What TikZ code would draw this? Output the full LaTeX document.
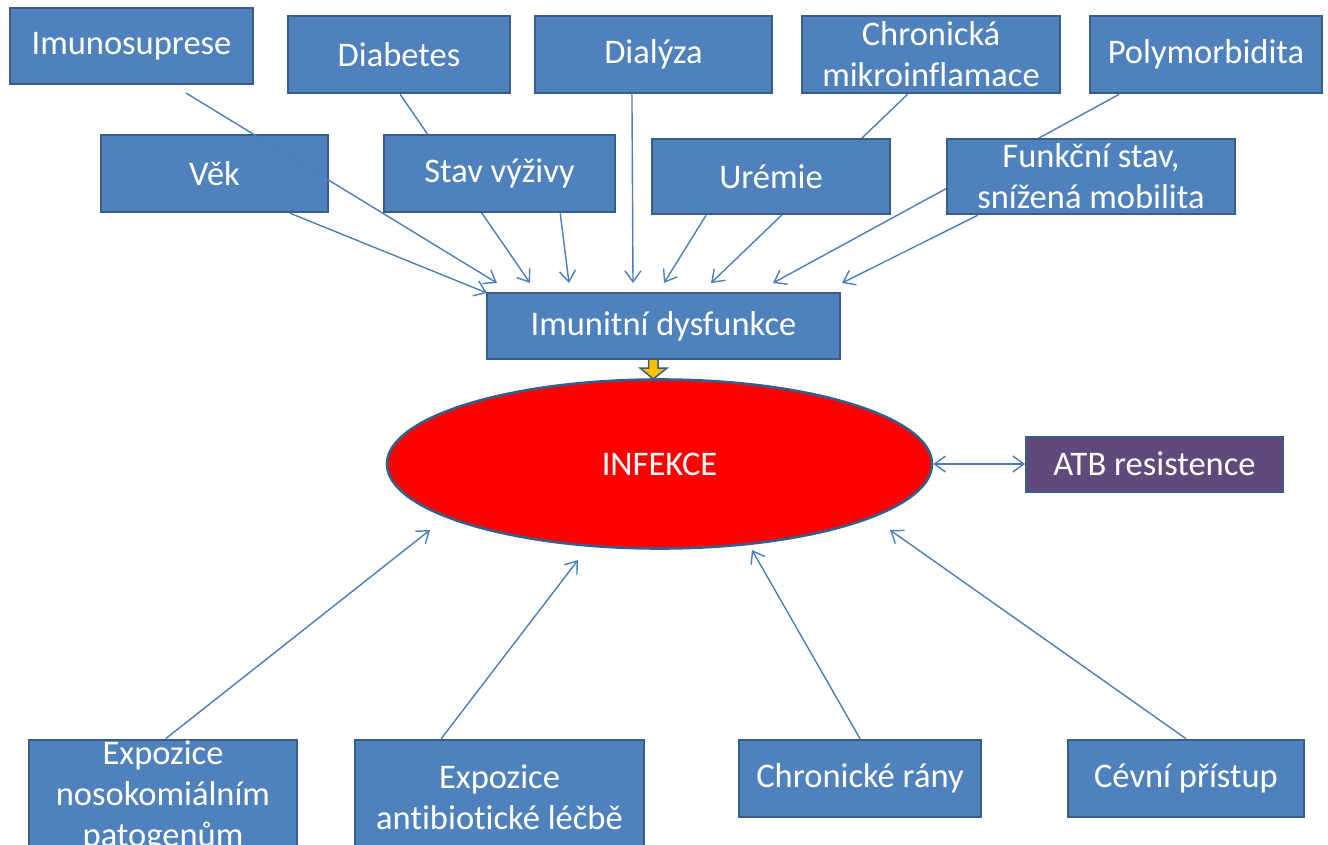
\documentclass[tikz,border=0pt]{standalone}
\usepackage{fontspec}
\setmainfont{Carlito}[Ligatures=NoCommon]
\usetikzlibrary{shapes.geometric,arrows.meta,calc}
\pgfdeclarelayer{bg}
\pgfdeclarelayer{paper}
\pgfsetlayers{paper,bg,main}
\definecolor{boxfill}{HTML}{4F81BD}
\definecolor{boxline}{HTML}{385D8A}
\definecolor{conn}{HTML}{4A7EBB}
\definecolor{atbfill}{HTML}{604A7B}
\definecolor{arrfill}{HTML}{FFC000}
\tikzset{
  fbox/.style={draw=boxline, line width=2.6pt, fill=boxfill, text=white, inner sep=0pt, align=center,
    font=\fontsize{34.5}{41}\selectfont},
  tip/.style={Straight Barb[length=11pt,width=16pt,line width=1.4pt]},
  conarrow/.style={draw=conn, line width=1.4pt, -{Straight Barb[length=11pt,width=16pt,line width=1.4pt]}},
}
\begin{document}
\begin{tikzpicture}[x=1pt,y=-1pt]
\clip (0,0) rectangle (1328,845);
\useasboundingbox (0,0) rectangle (1328,845);
\begin{pgfonlayer}{paper}
\fill[white] (0,0) rectangle (1328,845);
\end{pgfonlayer}

% top row
\node[fbox, minimum width=243, minimum height=76] (imuno) at (131.5,46) {Imunosuprese};
\node[fbox, minimum width=222, minimum height=77] (diab) at (399,54.5) {Diabetes};
\node[fbox, minimum width=237, minimum height=77] (dial) at (653.5,54.5) {Dialýza};
\node[fbox, minimum width=258, minimum height=77] (chron) at (931,54.5) {Chronická\\mikroinflamace};
\node[fbox, minimum width=232, minimum height=77] (poly) at (1206,54.5) {Polymorbidita};
% second row
\node[fbox, minimum width=227, minimum height=77] (vek) at (214.5,173.5) {Věk};
\node[fbox, minimum width=231, minimum height=77] (stav) at (499.5,173.5) {Stav výživy};
\node[fbox, minimum width=238, minimum height=75] (urem) at (771,176.5) {Urémie};
\node[fbox, minimum width=288, minimum height=75] (funk) at (1091,176.5) {Funkční stav,\\snížená mobilita};
% centre
\node[fbox, minimum width=353, minimum height=66] (dys) at (663.5,326) {Imunitní dysfunkce};
\node[fbox, ellipse, fill=red, minimum width=545, minimum height=169] (inf) at (659.5,464) {INFEKCE};
\node[fbox, fill=atbfill, line width=2pt, minimum width=257, minimum height=55] (atb) at (1154.5,464) {ATB resistence};
% bottom row
\node[fbox, minimum width=268, minimum height=114] (noso) at (163,797) {Expozice\\nosokomiálním\\patogenům};
\node[fbox, minimum width=289, minimum height=114] (anti) at (499.5,797) {Expozice\\antibiotické léčbě};
\node[fbox, minimum width=242, minimum height=77] (rany) at (860,778.5) {Chronické rány};
\node[fbox, minimum width=236, minimum height=77] (cev) at (1186,778.5) {Cévní přístup};

% arrow end points
\coordinate (eImuno) at (497,283);
\coordinate (eVek) at (487,293);
\coordinate (eDiab) at (530,283);
\coordinate (eStav) at (569,283);
\coordinate (eDial) at (633,283);
\coordinate (eUrem) at (664,283);
\coordinate (eChron) at (711,283);
\coordinate (ePoly) at (773,283);
\coordinate (eFunk) at (842,283);
\coordinate (sImuno) at (186,93);
\coordinate (eNoso) at (430,530);
\coordinate (eAnti) at (578,560);
\coordinate (eRany) at (752,550);
\coordinate (eCev) at (890,530);

% lines hidden behind the second row
\begin{pgfonlayer}{bg}
\draw[conarrow] ($(diab.south west)!0.505!(diab.south east)$) -- (eDiab);
\draw[conarrow] ($(chron.south west)!0.41!(chron.south east)$) -- (eChron);
\draw[conarrow] ($(poly.south west)!0.13!(poly.south east)$) -- (ePoly);
\end{pgfonlayer}

\draw[conarrow] (sImuno) -- (eImuno);
\draw[conarrow] ($(vek.south west)!0.83!(vek.south east)$) -- (eVek);
\draw[conarrow] ($(stav.south west)!0.76!(stav.south east)$) -- (eStav);
\draw[conarrow] ($(dial.south west)!0.41!(dial.south east)$) -- (eDial);
\draw[conarrow] ($(urem.south west)!0.23!(urem.south east)$) -- (eUrem);
\draw[conarrow] ($(funk.south west)!0.11!(funk.south east)$) -- (eFunk);

\draw[conarrow] ($(noso.north west)!0.51!(noso.north east)$) -- (eNoso);
\draw[conarrow] ($(anti.north west)!0.30!(anti.north east)$) -- (eAnti);
\draw[conarrow] ($(rany.north west)!0.5!(rany.north east)$) -- (eRany);
\draw[conarrow] ($(cev.north west)!0.5!(cev.north east)$) -- (eCev);

\draw[draw=conn, line width=1.4pt, {Straight Barb[length=11pt,width=16pt,line width=1.4pt]}-{Straight Barb[length=11pt,width=16pt,line width=1.4pt]}] (inf.east) -- (atb.west);

% yellow block arrow
\draw[fill=arrfill, draw=boxline, line width=1.5pt, line join=miter]
  (648.5,359) -- (658,359) -- (658,368) -- (667,368) -- (653.3,379) -- (640,368) -- (648.5,368) -- cycle;
\end{tikzpicture}
\end{document}
